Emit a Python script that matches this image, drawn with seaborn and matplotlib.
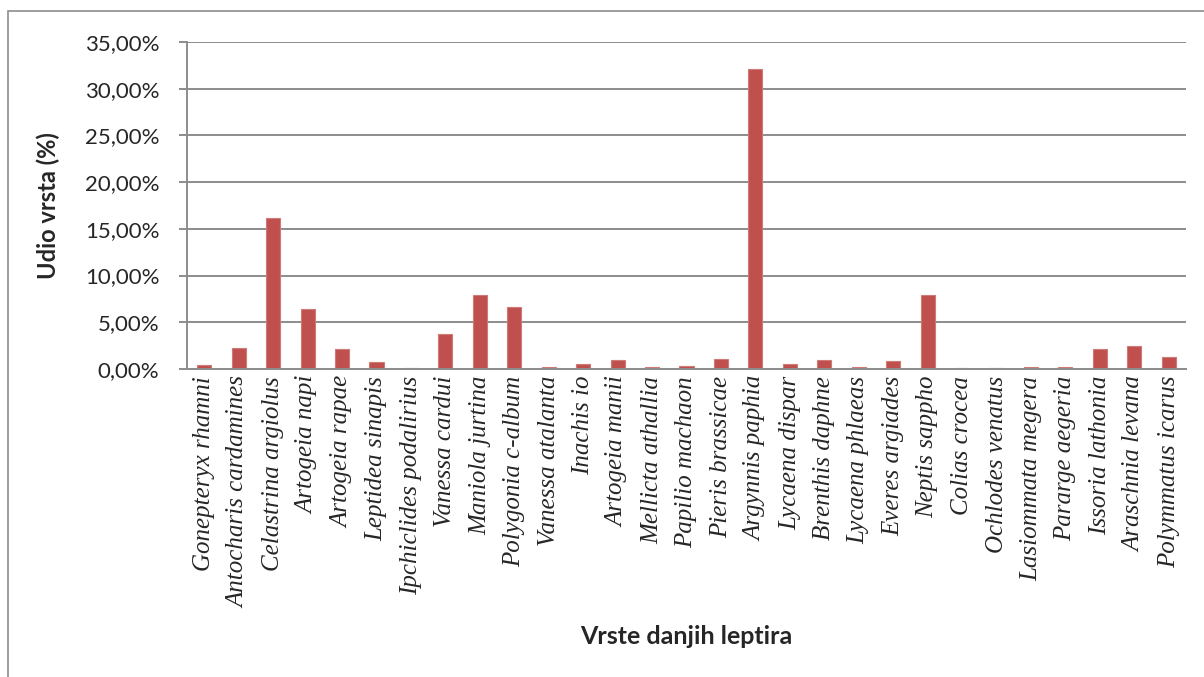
import matplotlib
matplotlib.use("Agg")
import matplotlib.pyplot as plt
import matplotlib.ticker as mticker
from matplotlib.patches import Rectangle
import seaborn as sns
import pandas as pd

# udio vrsta danjih leptira (%)
vrste = ["Gonepteryx rhamni", "Antocharis cardamines", "Celastrina argiolus",
         "Artogeia napi", "Artogeia rapae", "Leptidea sinapis",
         "Ipchiclides podalirius", "Vanessa cardui", "Maniola jurtina",
         "Polygonia c-album", "Vanessa atalanta", "Inachis io",
         "Artogeia manii", "Mellicta athallia", "Papilio machaon",
         "Pieris brassicae", "Argynnis paphia", "Lycaena dispar",
         "Brenthis daphne", "Lycaena phlaeas", "Everes argiades",
         "Neptis sappho", "Colias crocea", "Ochlodes venatus",
         "Lasiommata megera", "Pararge aegeria", "Issoria lathonia",
         "Araschnia levana", "Polymmatus icarus"]
udio = [0.43, 2.2, 16.2, 6.42, 2.14, 0.75, 0.1, 3.71, 7.92, 6.64, 0.18, 0.54,
        0.96, 0.18, 0.32, 1.07, 32.1, 0.54, 0.96, 0.18, 0.86, 7.92, 0.1, 0.1,
        0.18, 0.18, 2.14, 2.46, 1.32]

df = pd.DataFrame({"vrsta": vrste, "udio": udio})

sns.set_style("white")
plt.rcParams['font.family'] = ['Lato', 'DejaVu Sans']

fig = plt.figure(figsize=(12.04, 6.77), dpi=100)
ax = fig.add_axes([187/1204, 1 - 369/677, 999/1204, 327/677])

sns.barplot(data=df, x="vrsta", y="udio", color="#C0504D", width=0.41,
            saturation=1, edgecolor="#D07a78", linewidth=0.8, ax=ax)

ax.set_ylim(0, 35)
ax.set_xlim(-0.5, len(vrste) - 0.5)
ax.yaxis.set_major_locator(mticker.MultipleLocator(5))
ax.yaxis.set_major_formatter(mticker.FuncFormatter(
    lambda v, p: f"{v:.2f}%".replace(".", ",")))
ax.grid(axis="y", color="#8c8c8c", linewidth=1.4)
ax.set_axisbelow(True)

for s in ["top", "right"]:
    ax.spines[s].set_visible(False)
for s in ["left", "bottom"]:
    ax.spines[s].set_color("#8c8c8c")
    ax.spines[s].set_linewidth(1.4)

ax.tick_params(axis="y", length=6, width=1.4, color="#8c8c8c", pad=14,
               labelsize=16, left=True)
ax.tick_params(axis="x", length=0, pad=5)
ax.set_xticks(range(len(vrste)))
ax.set_xticklabels(vrste, rotation=90, fontsize=18, style="italic",
                   family="Liberation Serif", va="top", ha="center")

ax.set_xlabel("")
ax.set_ylabel("Udio vrsta (%)", fontsize=17, fontweight="bold")
ax.yaxis.set_label_coords(-0.127, 0.5)
fig.text(686/1204, 1 - 637/677, "Vrste danjih leptira", fontsize=18,
         fontweight="bold", ha="center", va="center")

# okvir grafikona
fig.patches.append(Rectangle((8/1204, -0.1), 1.2, 1 - 11/677 + 0.1,
                             transform=fig.transFigure, fill=False,
                             edgecolor="#8c8c8c", linewidth=1.2))

fig.savefig("out.png", dpi=100)
